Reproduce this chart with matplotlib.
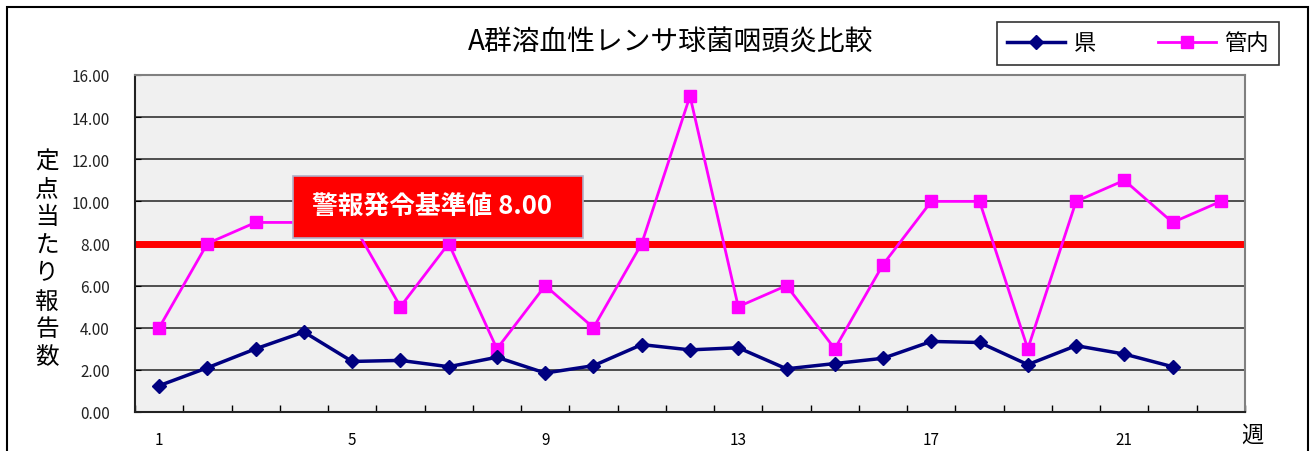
import numpy as np
import matplotlib.pyplot as plt
from matplotlib.patches import Rectangle

plt.rcParams['font.family'] = ['Noto Sans CJK JP', 'DejaVu Sans']

# data
weeks = list(range(1, 24))
ken = [1.25, 2.1, 3.0, 3.8, 2.4, 2.45, 2.15, 2.6, 1.85, 2.2, 3.2, 2.95,
       3.05, 2.05, 2.3, 2.55, 3.35, 3.3, 2.25, 3.15, 2.75, 2.15]
kannai = [4, 8, 9, 9, 9, 5, 8, 3, 6, 4, 8, 15, 5, 6, 3, 7, 10, 10, 3, 10, 11, 9, 10]
threshold = 8.0
week_labels = [1, 5, 9, 13, 17, 21]
y_ticks = np.arange(0, 17, 2)

fig = plt.figure(figsize=(13.12, 4.52), dpi=100)
W, H = 1312, 452
ax = fig.add_axes([135 / W, 1 - 413 / H, (1245 - 135) / W, (413 - 76) / H])
ax.set_facecolor('#F0F0F0')

# outer chart border
fig.patches.append(Rectangle((7 / W, -0.05), (1308 - 7) / W, 1.05 - 8 / H,
                             transform=fig.transFigure, fill=False,
                             edgecolor='black', linewidth=1.5))

for y in y_ticks[1:]:
    ax.axhline(y, color='#333333', linewidth=1.2, zorder=1)

ax.axhline(threshold, color='#FF0000', linewidth=5, zorder=2)

ax.plot(weeks, kannai, color='#FF00FF', linewidth=2, marker='s',
        markersize=8.5, zorder=3, label='管内')
ax.plot(weeks[:len(ken)], ken, color='#000080', linewidth=2.5, marker='D',
        markersize=7, zorder=4, label='県')

ax.set_xlim(0.5, 23.5)
ax.set_ylim(0, 16)
ax.set_yticks(y_ticks)
ax.set_yticklabels([f'{v:.2f}' for v in y_ticks], fontsize=11, color='#222222')
ax.set_xticks(week_labels)
ax.set_xticklabels([str(w) for w in week_labels], fontsize=11)
ax.set_xticks(np.arange(0.5, 24, 1), minor=True)
ax.tick_params(axis='x', which='major', length=0, pad=14)
ax.tick_params(axis='x', which='minor', direction='in', length=5, width=1)
ax.tick_params(axis='y', direction='in', length=4, pad=18)

for side in ['left', 'bottom']:
    ax.spines[side].set_color('#222222')
    ax.spines[side].set_linewidth(1.5)
for side in ['top', 'right']:
    ax.spines[side].set_color('#808080')
    ax.spines[side].set_linewidth(1.5)

# threshold label box
ax.add_patch(Rectangle((3.77, 8.26), 6.01, 2.94, facecolor='#FF0000',
                       edgecolor='#B0B0C8', linewidth=1.2, zorder=5))
ax.text(4.17, 9.75, '警報発令基準値 8.00', fontsize=18.5, fontweight='bold',
        color='white', va='center', ha='left', zorder=6)

fig.text(671 / W, 1 - 43 / H, 'A群溶血性レンサ球菌咽頭炎比較', fontsize=20,
         ha='center', va='center')

ylab = '定点当たり報告数'
for i, ch in enumerate(ylab):
    fig.text(47 / W, 1 - (162 + i * 28) / H, ch, fontsize=17,
             ha='center', va='center')

fig.text(1252 / W, 1 - 435 / H, '週', fontsize=16, ha='center', va='center')

leg = fig.legend(handles=ax.get_lines()[::-1][:2], labels=['県', '管内'],
                 loc='center', bbox_to_anchor=(1138 / W, 1 - 44 / H),
                 ncol=2, fontsize=16, frameon=True, fancybox=False,
                 edgecolor='black', handlelength=2.6, columnspacing=2.8,
                 borderpad=0.45, handletextpad=0.4)
leg.get_frame().set_linewidth(1.2)

fig.savefig('out.png', dpi=100)
